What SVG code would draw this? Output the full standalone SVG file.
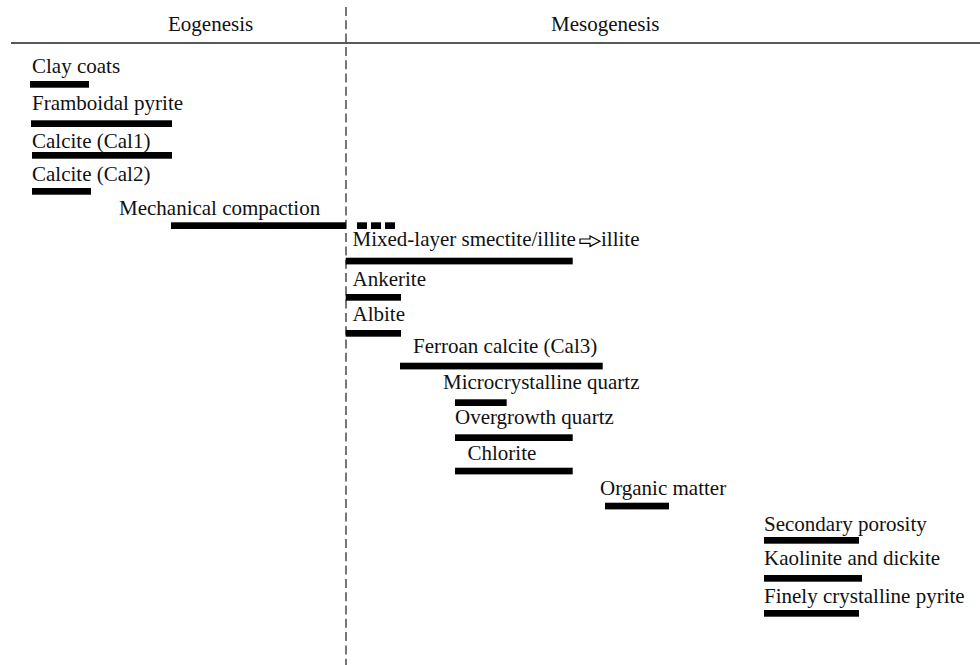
<svg xmlns="http://www.w3.org/2000/svg" width="980" height="665" viewBox="0 0 980 665">
<style>
text{font-family:"Liberation Serif","Times New Roman",serif;font-size:21px;fill:#111;}
.bar{fill:#000;}
.axis{stroke:#222;stroke-width:1.3;fill:none;}
.divider{stroke:#555;stroke-width:1.6;stroke-dasharray:9 4.3;fill:none;}
.arrow{fill:#fff;stroke:#000;stroke-width:1.2;stroke-linejoin:miter;}
</style>
<rect width="980" height="665" fill="#fff"/>
<g id="axes">
<line class="axis" x1="11" y1="43" x2="980" y2="43"/>
<line class="divider" x1="346" y1="7" x2="346" y2="665"/>
<text x="168" y="31">Eogenesis</text>
<text x="551" y="31">Mesogenesis</text>
</g>
<g id="clay-coats"><text x="32" y="73">Clay coats</text><rect class="bar" x="30" y="81" width="59" height="6.7"/></g>
<g id="framboidal-pyrite"><text x="32" y="110">Framboidal pyrite</text><rect class="bar" x="31" y="120.3" width="141" height="6.7"/></g>
<g id="calcite-cal1"><text x="32" y="147.5">Calcite (Cal1)</text><rect class="bar" x="32" y="152" width="140" height="6.7"/></g>
<g id="calcite-cal2"><text x="32" y="181">Calcite (Cal2)</text><rect class="bar" x="32" y="188" width="59" height="6.7"/></g>
<g id="mechanical-compaction"><text x="119" y="215">Mechanical compaction</text>
<rect class="bar" x="171" y="222.3" width="175" height="6.7"/>
<rect class="bar" x="357" y="222.3" width="10" height="6.7"/>
<rect class="bar" x="371" y="222.3" width="10" height="6.7"/>
<rect class="bar" x="385" y="222.3" width="10" height="6.7"/></g>
<g id="mixed-layer"><text x="352.5" y="246">Mixed-layer smectite/illite</text>
<polygon class="arrow" points="580,239 590,239 590,236 600,241.2 590,246.4 590,243.4 580,243.4"/>
<text x="601" y="246">illite</text>
<rect class="bar" x="345.7" y="257.7" width="227" height="6.7"/></g>
<g id="ankerite"><text x="352.5" y="286">Ankerite</text><rect class="bar" x="345.7" y="294" width="55.3" height="6.7"/></g>
<g id="albite"><text x="352.5" y="321">Albite</text><rect class="bar" x="345.7" y="330" width="55.3" height="6.7"/></g>
<g id="ferroan-calcite"><text x="413" y="353">Ferroan calcite (Cal3)</text><rect class="bar" x="400" y="362.7" width="202.7" height="6.7"/></g>
<g id="microcrystalline-quartz"><text x="443" y="389">Microcrystalline quartz</text><rect class="bar" x="455" y="399.3" width="51.7" height="6.7"/></g>
<g id="overgrowth-quartz"><text x="455" y="424">Overgrowth quartz</text><rect class="bar" x="455" y="434.3" width="117.7" height="6.7"/></g>
<g id="chlorite"><text x="467.5" y="460">Chlorite</text><rect class="bar" x="455" y="467.7" width="117.7" height="6.7"/></g>
<g id="organic-matter"><text x="600" y="495">Organic matter</text><rect class="bar" x="605" y="502.7" width="64" height="6.7"/></g>
<g id="secondary-porosity"><text x="764" y="531">Secondary porosity</text><rect class="bar" x="764" y="537" width="95" height="6.7"/></g>
<g id="kaolinite-dickite"><text x="764" y="565">Kaolinite and dickite</text><rect class="bar" x="764" y="575" width="98" height="6.7"/></g>
<g id="finely-crystalline-pyrite"><text x="764" y="602.5">Finely crystalline pyrite</text><rect class="bar" x="764" y="610" width="95" height="6.7"/></g>
<g id="connectors"></g>
</svg>
